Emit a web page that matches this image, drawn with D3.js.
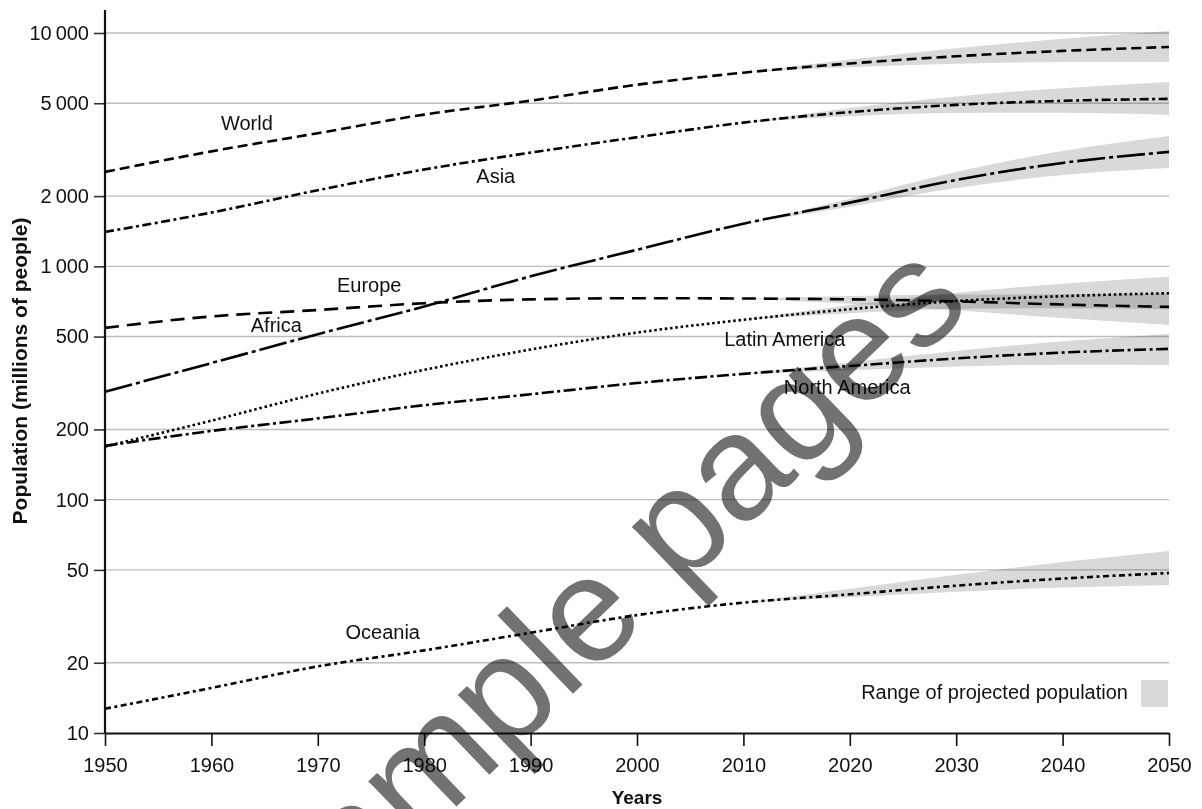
<!DOCTYPE html>
<html>
<head>
<meta charset="utf-8">
<script src="https://cdn.jsdelivr.net/npm/d3@7"></script>
<style>
  body { margin: 0; background: #fff; }
  svg text { font-family: "Liberation Sans", Arial, Helvetica, sans-serif; fill: #111; }
</style>
</head>
<body>
<svg id="chart" width="1202" height="809"></svg>
<script>
// ---- data (millions of people) ----
const years = [1950, 1960, 1970, 1980, 1990, 2000, 2010, 2020, 2030, 2040, 2050];
const world        = [2540, 3110, 3720, 4470, 5130, 6000, 6760, 7400, 7950, 8380, 8710];
const asia         = [1404, 1700, 2120, 2600, 3071, 3575, 4130, 4580, 4920, 5120, 5220];
const africa       = [290, 385, 512, 673, 906, 1178, 1523, 1875, 2346, 2774, 3093];
const europe       = [545, 610, 650, 695, 722, 730, 728, 722, 708, 686, 670];
const latinAmerica = [169, 218, 285, 360, 440, 520, 590, 655, 710, 745, 767];
const northAmerica = [170, 197, 223, 254, 283, 316, 346, 374, 403, 427, 443];
const oceania      = [12.7, 15.6, 19.3, 22.6, 26.9, 32.0, 36.2, 39.3, 42.8, 45.9, 48.5];

// projection ranges (low / high variants)
const projYears = [2010, 2020, 2030, 2040, 2050];
const worldLow   = [6760, 7130, 7390, 7510, 7520];
const worldHigh  = [6760, 7700, 8610, 9440, 10200];
const asiaLow    = [4130, 4400, 4546, 4547, 4456];
const asiaHigh   = [4130, 4776, 5349, 5803, 6170];
const africaLow  = [1523, 1802, 2167, 2463, 2640];
const africaHigh = [1523, 1950, 2538, 3122, 3620];
const europeLow  = [728, 691, 648, 600, 561];
const europeHigh = [728, 747, 757, 759, 767];
const latinLow   = [590, 630, 656, 662, 655];
const latinHigh  = [590, 682, 770, 842, 903];
const northLow   = [346, 359, 372, 379, 378];
const northHigh  = [346, 388, 434, 477, 513];
const oceaniaLow  = [36.2, 38.2, 40.3, 42.0, 43.1];
const oceaniaHigh = [36.2, 41.5, 47.7, 54.0, 60.3];

const yTicks = [10, 20, 50, 100, 200, 500, 1000, 2000, 5000, 10000];
const yTickLabels = ["10", "20", "50", "100", "200", "500", "1\u2009000", "2\u2009000", "5\u2009000", "10\u2009000"];
const xTicks = [1950, 1960, 1970, 1980, 1990, 2000, 2010, 2020, 2030, 2040, 2050];

// series: values, projection range, stroke pattern, label anchor (year, value)
const series = [
  { name: "World",         values: world,        low: worldLow,   high: worldHigh,   dash: "10,5",      lx: 1960.9, ly: 3846 },
  { name: "Asia",          values: asia,         low: asiaLow,    high: asiaHigh,    dash: "9,3.5,3,3.5", lx: 1984.9, ly: 2277 },
  { name: "Africa",        values: africa,       low: africaLow,  high: africaHigh,  dash: "28,4,4,4",  lx: 1963.7, ly: 523 },
  { name: "Europe",        values: europe,       low: europeLow,  high: europeHigh,  dash: "14,8",      lx: 1971.8, ly: 777 },
  { name: "Latin America", values: latinAmerica, low: latinLow,   high: latinHigh,   dash: "2.5,2.8",   lx: 2008.2, ly: 457 },
  { name: "North America", values: northAmerica, low: northLow,   high: northHigh,   dash: "12,3.5,3,3.5", lx: 2013.8, ly: 284 },
  { name: "Oceania",       values: oceania,      low: oceaniaLow, high: oceaniaHigh, dash: "6,3.5,3,3.5", lx: 1972.6, ly: 25.3 }
];

// ---- layout ----
const svg = d3.select("#chart");
const x = d3.scaleLinear().domain([1950, 2050]).range([105, 1169]);
const y = d3.scaleLog().domain([10, 10000]).range([733, 33]);

// gridlines
svg.append("g")
  .selectAll("line")
  .data(yTicks.slice(1))
  .join("line")
  .attr("x1", x(1950)).attr("x2", x(2050))
  .attr("y1", d => y(d)).attr("y2", d => y(d))
  .attr("stroke", "#bdbdbd").attr("stroke-width", 1.4);

// projection bands
const area = d3.area()
  .x((d, i) => x(projYears[i]))
  .y0(d => y(d[0]))
  .y1(d => y(d[1]))
  .curve(d3.curveMonotoneX);

svg.append("g")
  .selectAll("path")
  .data(series)
  .join("path")
  .attr("d", s => area(s.low.map((v, i) => [v, s.high[i]])))
  .attr("fill", "#d9d9d9")
  .style("mix-blend-mode", "multiply");

// x axis
const xAxis = svg.append("g")
  .attr("transform", `translate(0,${y(10)})`)
  .call(d3.axisBottom(x).tickValues(xTicks).tickFormat(d3.format("d")).tickSize(13).tickSizeOuter(0).tickPadding(12));
xAxis.select(".domain").attr("stroke", "#111").attr("stroke-width", 2.2);
xAxis.selectAll(".tick line").attr("stroke", "#111").attr("stroke-width", 1.6);
xAxis.selectAll("text").attr("font-size", 20).attr("fill", "#111");

// y axis
const yAxis = svg.append("g")
  .attr("transform", `translate(${x(1950)},0)`)
  .call(d3.axisLeft(y).tickValues(yTicks).tickFormat((d, i) => yTickLabels[i]).tickSize(11).tickSizeOuter(0).tickPadding(5));
yAxis.select(".domain").remove();
yAxis.selectAll(".tick line").attr("stroke", "#333").attr("stroke-width", 1.6);
yAxis.selectAll("text").attr("font-size", 20).attr("fill", "#111");
svg.append("line")
  .attr("x1", x(1950)).attr("x2", x(1950))
  .attr("y1", y(10)).attr("y2", y(10000) - 23)
  .attr("stroke", "#111").attr("stroke-width", 2.2);

// series lines
const line = d3.line()
  .x((d, i) => x(years[i]))
  .y(d => y(d))
  .curve(d3.curveMonotoneX);

svg.append("g")
  .selectAll("path")
  .data(series)
  .join("path")
  .attr("d", s => line(s.values))
  .attr("fill", "none")
  .attr("stroke", "#000")
  .attr("stroke-width", 2.6)
  .attr("stroke-dasharray", s => s.dash);

// series labels
svg.append("g")
  .selectAll("text")
  .data(series)
  .join("text")
  .attr("x", s => x(s.lx))
  .attr("y", s => y(s.ly))
  .attr("font-size", 20)
  .text(s => s.name);

// legend
const legend = svg.append("g");
legend.append("text")
  .attr("x", 1128).attr("y", 699)
  .attr("text-anchor", "end")
  .attr("font-size", 20)
  .text("Range of projected population");
legend.append("rect")
  .attr("x", 1141).attr("y", 680).attr("width", 27).attr("height", 27)
  .attr("fill", "#d9d9d9");

// axis titles
svg.append("text")
  .attr("transform", "translate(27,371) rotate(-90)")
  .attr("text-anchor", "middle")
  .attr("font-size", 21)
  .attr("font-weight", "bold")
  .text("Population (millions of people)");
svg.append("text")
  .attr("x", 637).attr("y", 804)
  .attr("text-anchor", "middle")
  .attr("font-size", 19)
  .attr("font-weight", "bold")
  .text("Years");

// watermark
svg.append("text")
  .attr("transform", "translate(284,973) rotate(-44)")
  .attr("font-size", 150)
  .style("fill", "#727272")
  .style("mix-blend-mode", "multiply")
  .text("Sample pages");
</script>
</body>
</html>
